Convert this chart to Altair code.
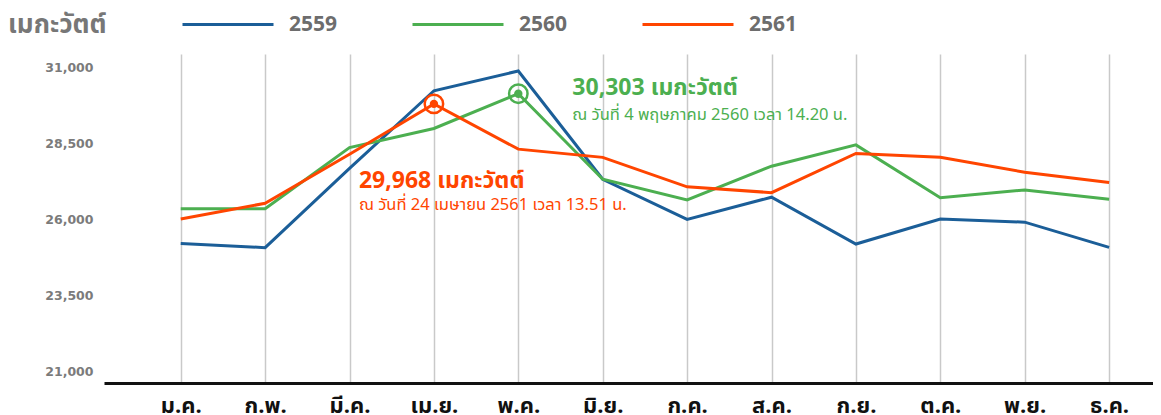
import altair as alt
import pandas as pd

months = ["ม.ค.", "ก.พ.", "มี.ค.", "เม.ย.", "พ.ค.", "มิ.ย.", "ก.ค.", "ส.ค.", "ก.ย.", "ต.ค.", "พ.ย.", "ธ.ค."]
series = ["2559", "2560", "2561"]
colors = ["#1b5e98", "#4caf50", "#ff4500"]
y2559 = [25380, 25240, 27850, 30400, 31050, 27490, 26170, 26900, 25360, 26180, 26080, 25250]
y2560 = [26520, 26520, 28530, 29160, 30303, 27490, 26810, 27920, 28620, 26880, 27140, 26830]
y2561 = [26180, 26700, 28310, 29968, 28480, 28210, 27240, 27050, 28340, 28210, 27720, 27380]
y_ticks = [21000, 23500, 26000, 28500, 31000]
unit = "เมกะวัตต์"

peak_month = ["พ.ค.", "เม.ย."]
peak_value = [30303, 29968]
peak_series = ["2560", "2561"]
peak_title = ["30,303 เมกะวัตต์", "29,968 เมกะวัตต์"]
peak_note = ["ณ วันที่ 4 พฤษภาคม 2560 เวลา 14.20 น.", "ณ วันที่ 24 เมษายน 2561 เวลา 13.51 น."]

rows = []
for s, vals in zip(series, [y2559, y2560, y2561]):
    for i, (m, v) in enumerate(zip(months, vals)):
        rows.append({"month": m, "mi": i, "series": s, "value": v})
df = pd.DataFrame(rows)
peaks = pd.DataFrame({"month": peak_month, "mi": [months.index(m) for m in peak_month],
                      "value": peak_value, "series": peak_series,
                      "title": peak_title, "note": peak_note})

W, H = 1049, 329
XMIN, XMAX = -0.909, 11.52
YMIN, YMAX = 20790, 31609
THAI = "'Noto Sans Thai', 'Noto Sans Thai UI', 'Noto Sans', sans-serif"
month_expr = "[" + ",".join("'" + m + "'" for m in months) + "][datum.value]"

xscale = alt.Scale(domain=[XMIN, XMAX], nice=False, zero=False)
yscale = alt.Scale(domain=[YMIN, YMAX], nice=False, zero=False)

xenc = alt.X("mi:Q", scale=xscale,
             axis=alt.Axis(title=None, values=list(range(len(months))), labelExpr=month_expr,
                           domain=True, domainColor="#111111", domainWidth=3,
                           ticks=False, grid=True, gridColor="#c9c9c9",
                           gridWidth=1.5, labelAngle=0, labelFont=THAI, labelFontSize=22,
                           labelFontWeight="bold", labelColor="#111111", labelPadding=12,
                           labelBaseline="top", labelAlign="center", labelFlush=False,
                           labelOverlap=False))
yenc = alt.Y("value:Q", scale=yscale,
             axis=alt.Axis(title=None, values=y_ticks, labelExpr="format(datum.value, ',')",
                           domain=False, ticks=False, grid=False, labelFont="DejaVu Sans",
                           labelFontSize=12.5, labelFontWeight="bold", labelColor="#7b7b7b",
                           labelPadding=11, labelOffset=-5))
cenc = alt.Color("series:N", scale=alt.Scale(domain=series, range=colors),
                 legend=alt.Legend(title=None, orient="none", direction="horizontal",
                                   legendX=77, legendY=-76.5, symbolType="stroke",
                                   symbolSize=8281, symbolStrokeWidth=3, labelOffset=14,
                                   columnPadding=68, labelFont="Open Sans", labelFontSize=21,
                                   labelFontWeight="bold", labelColor="#6d6d6d", padding=0))

lines = alt.Chart(df).mark_line(strokeWidth=3).encode(x=xenc, y=yenc, color=cenc)

pk = alt.Chart(peaks)
px = alt.X("mi:Q", scale=xscale)
py = alt.Y("value:Q", scale=yscale)
pcol = alt.Color("series:N", scale=alt.Scale(domain=series, range=colors), legend=None)
ring = pk.mark_point(shape="circle", filled=False, size=340, strokeWidth=2.5, opacity=1).encode(
    x=px, y=py, color=pcol)
dot = pk.mark_point(shape="circle", filled=True, size=70, opacity=1).encode(
    x=px, y=py, color=pcol)

g = peaks[peaks.series == "2560"]
r = peaks[peaks.series == "2561"]
g_title = alt.Chart(g).mark_text(align="left", baseline="middle", dx=54, dy=-6, font=THAI,
                                 fontSize=23, fontWeight="bold", color=colors[1]).encode(
    x=px, y=py, text="title:N")
g_note = alt.Chart(g).mark_text(align="left", baseline="middle", dx=54, dy=21, font=THAI,
                                fontSize=16.5, color=colors[1]).encode(
    x=px, y=py, text="note:N")
r_title = alt.Chart(r).mark_text(align="left", baseline="middle", dx=-75, dy=77, font=THAI,
                                 fontSize=23, fontWeight="bold", color=colors[2]).encode(
    x=px, y=py, text="title:N")
r_note = alt.Chart(r).mark_text(align="left", baseline="middle", dx=-75, dy=101, font=THAI,
                                fontSize=16.5, color=colors[2]).encode(
    x=px, y=py, text="note:N")

unit_text = alt.Chart(pd.DataFrame({"t": [unit]})).mark_text(
    align="left", baseline="middle", font=THAI, fontSize=26, fontWeight="bold",
    color="#777777").encode(x=alt.value(-96), y=alt.value(-29), text="t:N")

chart = alt.layer(lines, ring, dot, g_title, g_note, r_title, r_note, unit_text).properties(
    width=W, height=H, padding={"left": 96, "right": 0, "top": 46, "bottom": 32},
    autosize=alt.AutoSizeParams(type="none"), background="white"
).configure_view(strokeWidth=0, stroke="transparent")

chart.save("out.html", embed_options={"renderer": "svg", "actions": False})
